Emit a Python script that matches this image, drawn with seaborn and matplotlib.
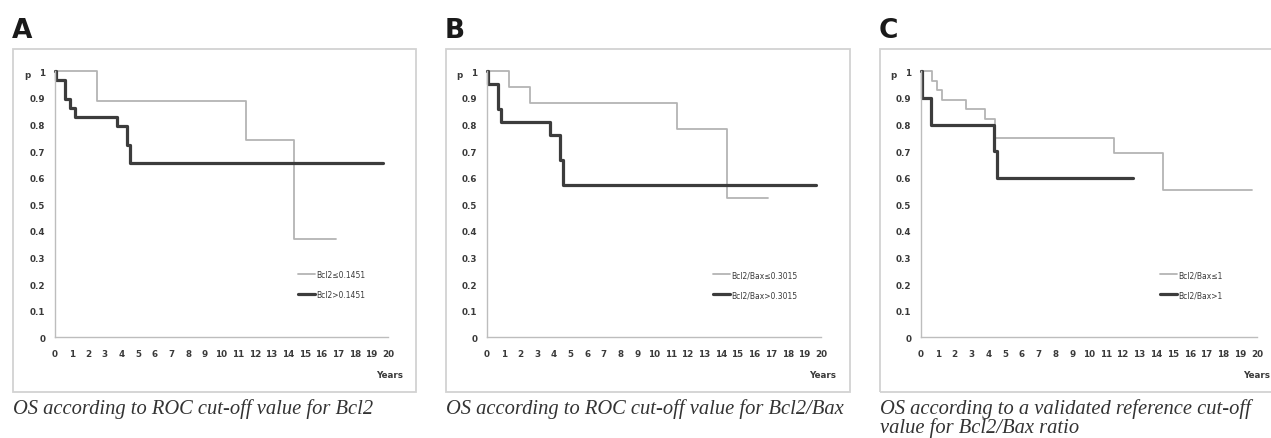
import matplotlib
matplotlib.use("Agg")
import matplotlib.pyplot as plt
import matplotlib.patches as mpatches
import seaborn as sns
import pandas as pd

# ---------------- data ----------------
A_low_t = [0, 2.55, 11.45, 14.35, 16.9]
A_low_s = [1.0, 0.889, 0.741, 0.370, 0.370]
A_high_t = [0, 0.05, 0.6, 0.9, 1.2, 3.75, 4.35, 4.5, 19.7]
A_high_s = [1.0, 0.966, 0.897, 0.862, 0.828, 0.793, 0.724, 0.655, 0.655]

B_low_t = [0, 1.3, 2.55, 11.4, 14.35, 16.85]
B_low_s = [1.0, 0.941, 0.882, 0.784, 0.523, 0.523]
B_high_t = [0, 0.05, 0.64, 0.84, 3.8, 4.35, 4.53, 19.7]
B_high_s = [1.0, 0.952, 0.857, 0.810, 0.762, 0.667, 0.571, 0.571]

C_low_t = [0, 0.64, 0.93, 1.23, 2.66, 3.81, 4.41, 11.46, 14.4, 19.7]
C_low_s = [1.0, 0.964, 0.929, 0.893, 0.857, 0.821, 0.750, 0.692, 0.554, 0.554]
C_high_t = [0, 0.05, 0.58, 4.37, 4.55, 12.6]
C_high_s = [1.0, 0.900, 0.800, 0.700, 0.600, 0.600]

A_labels = ["Bcl2≤0.1451", "Bcl2>0.1451"]
B_labels = ["Bcl2/Bax≤0.3015", "Bcl2/Bax>0.3015"]
C_labels = ["Bcl2/Bax≤1", "Bcl2/Bax>1"]

panel_letters = ["A", "B", "C"]
captions = [
    ["OS according to ROC cut-off value for Bcl2"],
    ["OS according to ROC cut-off value for Bcl2/Bax"],
    ["OS according to a validated reference cut-off", "value for Bcl2/Bax ratio"],
]

x_ticks = list(range(0, 21))
y_ticks = [0, 0.1, 0.2, 0.3, 0.4, 0.5, 0.6, 0.7, 0.8, 0.9, 1.0]
y_tick_labels = ["0", "0.1", "0.2", "0.3", "0.4", "0.5", "0.6", "0.7", "0.8", "0.9", "1"]

# ---------------- style ----------------
sns.set_style("white")
plt.rcParams["font.family"] = ["DejaVu Sans"]

W, H = 1271, 439
fig = plt.figure(figsize=(W / 100, H / 100), dpi=100)

LIGHT = "#b4b4b4"
DARK = "#3c3c3c"
SPINE = "#bdbdbd"
TXT = "#3a3a3a"

def fx(px):
    return px / W

def fy(py):
    return (H - py) / H

# pixel geometry per panel
boxes_x = [13, 446, 880]
boxes_w = [403, 404, 420]
axes_x = [(55, 388), (487, 821), (921, 1257)]
leg_x = [298, 713, 1160]
p_x = [27, 459, 893]
years_x = [390, 823, 1257]
y_top, y_bot = 72.3, 338.3
caption_base = [414, 433]

datasets = [
    (A_low_t, A_low_s, A_high_t, A_high_s, A_labels),
    (B_low_t, B_low_s, B_high_t, B_high_s, B_labels),
    (C_low_t, C_low_s, C_high_t, C_high_s, C_labels),
]

for i, (lt, ls, ht, hs, labs) in enumerate(datasets):
    # frame box
    bx = boxes_x[i]
    rect = mpatches.Rectangle((fx(bx), fy(393)), fx(boxes_w[i]), (393 - 50) / H,
                              transform=fig.transFigure, fill=False,
                              edgecolor="#d2d2d2", linewidth=1.3)
    fig.patches.append(rect)

    x0, x1 = axes_x[i]
    ax = fig.add_axes([fx(x0), fy(y_bot), fx(x1 - x0), (y_bot - y_top) / H])
    ax.patch.set_alpha(0)

    df = pd.DataFrame({
        "t": list(lt) + list(ht),
        "s": list(ls) + list(hs),
        "g": [labs[0]] * len(lt) + [labs[1]] * len(ht),
    })
    sns.lineplot(data=df, x="t", y="s", hue="g", size="g",
                 palette={labs[0]: LIGHT, labs[1]: DARK},
                 sizes={labs[0]: 1.3, labs[1]: 2.3},
                 drawstyle="steps-post", estimator=None, sort=False,
                 ax=ax, clip_on=False)

    ax.set_xlim(0, 20)
    ax.set_ylim(0, 1)
    ax.set_xticks(x_ticks)
    ax.set_xticklabels([str(v) for v in x_ticks])
    ax.set_yticks(y_ticks)
    ax.set_yticklabels(y_tick_labels)
    ax.set_xlabel("")
    ax.set_ylabel("")
    for sp in ["top", "right"]:
        ax.spines[sp].set_visible(False)
    for sp in ["left", "bottom"]:
        ax.spines[sp].set_color(SPINE)
        ax.spines[sp].set_linewidth(1.0)
    ax.tick_params(axis="both", length=2.5, width=0.8, color=SPINE,
                   labelsize=6.3, labelcolor=TXT, direction="out")
    ax.tick_params(axis="x", pad=6.0)
    ax.tick_params(axis="y", pad=4.5)
    for lab in ax.get_xticklabels() + ax.get_yticklabels():
        lab.set_fontweight("bold")

    handles, labels = ax.get_legend_handles_labels()
    lx = (leg_x[i] - x0) / (x1 - x0)
    ax.legend(handles, labels, loc="center left", bbox_to_anchor=(lx, 0.198),
              frameon=False, fontsize=5.5, handlelength=2.2, handletextpad=0.2,
              labelspacing=1.45, borderpad=0, borderaxespad=0,
              labelcolor=TXT)

    # 'p' and 'Years'
    fig.text(fx(p_x[i]), fy(76), "p", fontsize=6.3, fontweight="bold",
             color=TXT, ha="center", va="center")
    fig.text(fx(years_x[i]), fy(375.5), "Years", fontsize=6.3,
             fontweight="bold", color=TXT, ha="center", va="center")

    # panel letter
    fig.text(fx(bx - 1), fy(38), panel_letters[i], fontsize=19,
             fontweight="bold", color="#1a1a1a", ha="left", va="baseline")

    # caption
    for j, line in enumerate(captions[i]):
        fig.text(fx(bx), fy(caption_base[j]), line, fontsize=14.8,
                 family="Liberation Serif", style="italic", color="#333333",
                 ha="left", va="baseline")

fig.savefig("out.png", dpi=100)
